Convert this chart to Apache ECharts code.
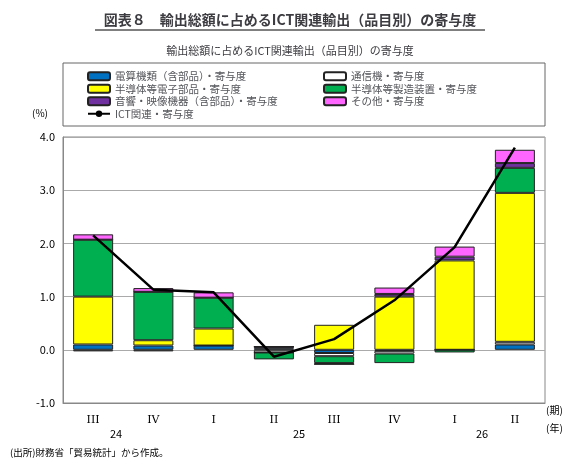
<!DOCTYPE html>
<html><head><meta charset="utf-8">
<script src="https://cdn.jsdelivr.net/npm/echarts@6/dist/echarts.min.js"></script>
<style>body{margin:0;background:#fff}#c{width:580px;height:474px}</style>
</head><body><div id="c"></div>
<script>
const quarters = ["III", "IV", "I", "II", "III", "IV", "I", "II"];
const computers = [0.10, 0.08, 0.08, 0.03, -0.06, -0.02, 0, 0.10];
const telecom = [-0.03, -0.03, 0, -0.05, -0.06, -0.05, 0, 0.05];
const chips = [0.90, 0.10, 0.32, 0, 0.47, 1.00, 1.68, 2.80];
const equipment = [1.07, 0.91, 0.58, -0.13, -0.13, -0.18, -0.05, 0.47];
const av = [0, 0, 0, 0.03, -0.02, 0.05, 0.07, 0.09];
const others = [0.10, 0.07, 0.10, 0, 0, 0.12, 0.19, 0.25];
const ictTotal = [2.15, 1.13, 1.08, -0.13, 0.20, 0.93, 1.93, 3.80];

const font = '"Noto Sans CJK JP", sans-serif';
const bar = (name, data, color) => ({
  name, type: 'bar', stack: 'ict', data, barWidth: 40,
  itemStyle: { color, borderColor: '#222', borderWidth: 1 }
});
const chart = echarts.init(document.getElementById('c'));
chart.setOption({
  animation: false,
  textStyle: { fontFamily: font, color: '#000' },
  title: [
    { text: '図表８　輸出総額に占めるICT関連輸出（品目別）の寄与度', left: 'center', top: 8,
      textStyle: { fontSize: 14, fontWeight: 'bold', fontFamily: font } },
    { text: '輸出総額に占めるICT関連輸出（品目別）の寄与度', left: 'center', top: 40,
      textStyle: { fontSize: 11, fontWeight: 'normal', fontFamily: font } }
  ],
  legend: [
    { left: 82, top: 66, orient: 'vertical', itemGap: 2, itemWidth: 22, itemHeight: 8,
      textStyle: { fontSize: 10.5 },
      data: ['電算機類（含部品）・寄与度', '半導体等電子部品・寄与度', '音響・映像機器（含部品）・寄与度', 'ICT関連・寄与度'] },
    { left: 318, top: 66, orient: 'vertical', itemGap: 2, itemWidth: 22, itemHeight: 8,
      textStyle: { fontSize: 10.5 },
      data: ['通信機・寄与度', '半導体等製造装置・寄与度', 'その他・寄与度'] }
  ],
  grid: { left: 63, right: 35, top: 137, bottom: 71 },
  xAxis: {
    type: 'category', data: quarters,
    axisLine: { onZero: false, lineStyle: { color: '#888' } }, axisTick: { show: false },
    axisLabel: { color: '#000', fontSize: 11, fontFamily: 'DejaVu Serif', margin: 12 }
  },
  yAxis: {
    type: 'value', min: -1, max: 4, interval: 1,
    axisLine: { show: true, lineStyle: { color: '#888' } },
    axisLabel: { color: '#000', fontSize: 11, formatter: v => v.toFixed(1) },
    splitLine: { lineStyle: { color: '#aaa' } }
  },
  graphic: [
    { type: 'line', shape: { x1: 95, y1: 30, x2: 485, y2: 30 }, style: { stroke: '#000', lineWidth: 1 } },
    { type: 'rect', shape: { x: 63, y: 63, width: 482, height: 63 }, style: { fill: 'none', stroke: '#666', lineWidth: 1 } },
    { type: 'rect', shape: { x: 63, y: 137, width: 482, height: 266 }, style: { fill: 'none', stroke: '#888', lineWidth: 1 } },
    { type: 'text', left: 32, top: 108, style: { text: '(%)', fontSize: 10, fontFamily: font } },
    { type: 'text', left: 110, top: 428, style: { text: '24', fontSize: 11, fontFamily: font } },
    { type: 'text', left: 293, top: 428, style: { text: '25', fontSize: 11, fontFamily: font } },
    { type: 'text', left: 476, top: 428, style: { text: '26', fontSize: 11, fontFamily: font } },
    { type: 'text', left: 546, top: 405, style: { text: '(期)', fontSize: 10, fontFamily: font } },
    { type: 'text', left: 546, top: 423, style: { text: '(年)', fontSize: 10, fontFamily: font } },
    { type: 'text', left: 10, top: 448, style: { text: '(出所)財務省「貿易統計」から作成。', fontSize: 9.5, fontFamily: font } }
  ],
  series: [
    bar('電算機類（含部品）・寄与度', computers, '#0070c0'),
    bar('通信機・寄与度', telecom, '#ffffff'),
    bar('半導体等電子部品・寄与度', chips, '#ffff00'),
    bar('半導体等製造装置・寄与度', equipment, '#00b050'),
    bar('音響・映像機器（含部品）・寄与度', av, '#7030a0'),
    bar('その他・寄与度', others, '#ff66ff'),
    { name: 'ICT関連・寄与度', type: 'line', data: ictTotal, symbol: 'none',
      lineStyle: { color: '#000', width: 2.5 }, itemStyle: { color: '#000' } }
  ]
});
</script></body></html>
